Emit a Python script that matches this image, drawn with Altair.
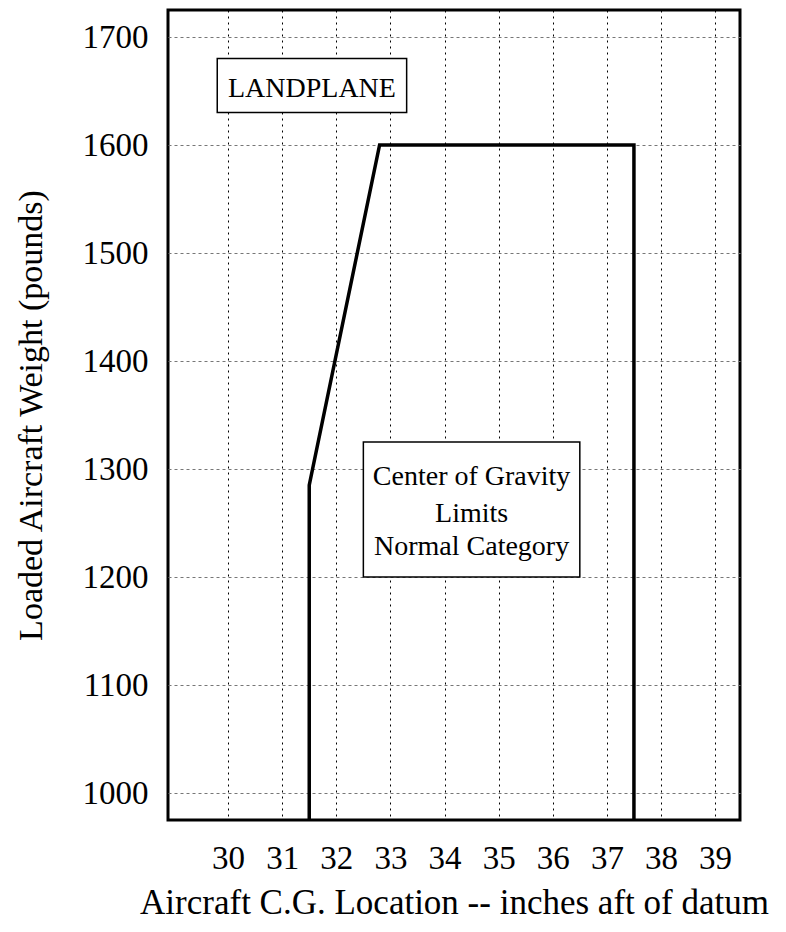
import altair as alt
import pandas as pd

# Envelope of the CG limits (inches aft of datum, pounds)
env_x = [31.5, 31.5, 32.8, 37.5, 37.5]
env_y = [975, 1285, 1600, 1600, 975]

x_ticks = [30, 31, 32, 33, 34, 35, 36, 37, 38, 39]
y_ticks = [1000, 1100, 1200, 1300, 1400, 1500, 1600, 1700]

# Annotation boxes
box_x1 = [29.8, 32.5]
box_x2 = [33.3, 36.5]
box_y1 = [1680, 1325]
box_y2 = [1630, 1200]

# Annotation texts
txt_label = ["LANDPLANE", "Center of Gravity", "Limits", " Normal Category"]
txt_x = [31.55, 34.5, 34.5, 34.5]
txt_y = [1644, 1285, 1251, 1220]

env = pd.DataFrame({"x": env_x, "y": env_y, "o": list(range(len(env_x)))})
boxes = pd.DataFrame({"x1": box_x1, "x2": box_x2, "y1": box_y1, "y2": box_y2})
texts = pd.DataFrame({"t": txt_label, "x": txt_x, "y": txt_y})

FONT = "Liberation Serif"
xs = alt.Scale(domain=[28.89, 39.46], nice=False, zero=False)
ys = alt.Scale(domain=[975, 1725], nice=False, zero=False)

xaxis = alt.Axis(values=x_ticks, format="d", labelOverlap=False, ticks=False,
                 domain=False, grid=True,
                 gridColor="black", gridDash=[2, 4], gridWidth=1,
                 labelFont=FONT, labelFontSize=33, labelColor="black",
                 labelPadding=22, labelFlush=False,
                 title="Aircraft C.G. Location -- inches aft of datum",
                 titleFont=FONT, titleFontSize=35, titleFontWeight="normal",
                 titleColor="black", titlePadding=10)
yaxis = alt.Axis(values=y_ticks, format="d", labelOverlap=False, ticks=False,
                 domain=False, grid=True,
                 gridColor="#777777", gridDash=[3, 3], gridWidth=1,
                 labelFont=FONT, labelFontSize=33, labelColor="black",
                 labelPadding=20, labelFlush=False,
                 title="Loaded Aircraft Weight (pounds)",
                 titleFont=FONT, titleFontSize=34, titleFontWeight="normal",
                 titleColor="black", titlePadding=34)

line = alt.Chart(env).mark_line(color="black", strokeWidth=3.5, strokeJoin="miter").encode(
    x=alt.X("x:Q", scale=xs, axis=xaxis),
    y=alt.Y("y:Q", scale=ys, axis=yaxis),
    order="o:Q",
)

rects = alt.Chart(boxes).mark_rect(fill="white", stroke="black", strokeWidth=1.5).encode(
    x=alt.X("x1:Q", scale=xs), x2="x2:Q",
    y=alt.Y("y1:Q", scale=ys), y2="y2:Q",
)

labels = alt.Chart(texts).mark_text(font=FONT, fontSize=28, color="black",
                                    align="center", baseline="alphabetic").encode(
    x=alt.X("x:Q", scale=xs),
    y=alt.Y("y:Q", scale=ys),
    text="t:N",
)

chart = alt.layer(line, rects, labels).properties(
    width=572, height=810,
    autosize=alt.AutoSizeParams(type="none"),
    padding={"left": 160, "top": 2, "right": 30, "bottom": 112},
).configure_view(stroke="black", strokeWidth=3)

chart.save("out.html", embed_options={"renderer": "svg", "actions": False})
